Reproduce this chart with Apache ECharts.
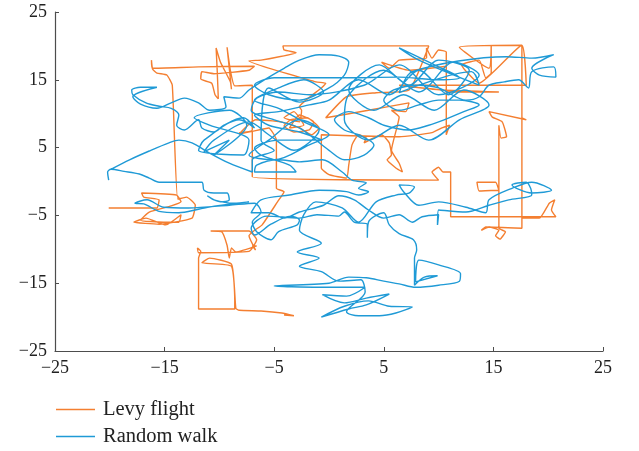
<!DOCTYPE html>
<html>
<head>
<meta charset="utf-8">
<script src="https://cdn.jsdelivr.net/npm/echarts@6/dist/echarts.min.js"></script>
<style>
  html, body { margin: 0; padding: 0; background: #fff; }
  #chart { width: 639px; height: 451px; }
</style>
</head>
<body>
<div id="chart"></div>
<script>
// Tick positions shared by both axes
const tickValues = [-25, -15, -5, 5, 15, 25];

// Series names
const seriesNames = ['Levy flight', 'Random walk'];

// Levy flight trajectory [x, y]
const levyPath = [
  [-20.1,-3.9],[-15.7,-3.9],[-15.5,-2.7],[-16.9,-2.3],[-17.1,-1.7],[-13.9,-2.0],[-13.5,-3.0],[-14.4,-3.6],
  [-16.4,-4.5],[-17.2,-5.7],[-15.1,-6.0],[-13.7,-6.0],[-13.5,-4.9],[-14.9,-6.4],[-16.7,-5.4],[-17.8,-6.0],
  [-15.5,-6.3],[-12.5,-5.4],[-12.2,-3.5],[-13.0,-2.3],[-13.8,-2.6],[-14.3,14.2],[-14.8,15.7],[-15.7,16.0],
  [-16.1,16.6],[-16.2,17.9],[-16.1,16.7],[-11.9,16.9],[-6.8,17.0],[-7.3,16.4],[-10.5,15.9],[-11.6,16.2],
  [-11.7,15.1],[-10.7,14.5],[-10.4,12.8],[-10.1,12.2],[-10.2,16.4],[-10.3,19.7],[-9.9,17.6],[-9.0,14.7],
  [-8.9,13.6],[-9.1,16.7],[-9.3,19.8],[-9.0,16.4],[-8.6,14.1],[-7.0,14.2],[-7.0,7.6],[-8.2,7.2],[-7.0,7.4],
  [-7.0,0.7],[10.0,0.2],[9.4,1.4],[10.0,2.1],[10.4,1.4],[11.1,1.4],[11.1,-5.2],[20.7,-5.2],[20.3,-4.2],
  [20.6,-2.7],[20.1,-3.2],[19.2,-5.4],[17.6,-5.4],[17.6,-6.9],[14.3,-6.7],[13.9,-7.2],[14.6,-6.7],
  [15.5,-7.2],[15.2,-8.0],[15.6,-8.5],[16.1,-7.4],[15.5,-6.9],[15.5,-1.3],[13.7,-1.4],[13.5,-0.1],
  [15.2,-0.1],[15.5,-1.3],[15.5,8.3],[15.7,6.4],[16.2,6.6],[15.8,8.8],[14.9,9.5],[14.6,10.3],[18.0,9.1],
  [17.6,9.4],[17.6,-6.9],[17.6,20.1],[11.9,19.8],[14.6,16.7],[14.8,20.1],[14.8,16.0],[14.3,15.3],
  [13.7,17.9],[12.1,17.2],[13.7,14.5],[17.6,20.1],[18.0,14.2],[6.4,14.2],[10.3,13.5],[15.5,13.2],
  [10.7,13.2],[10.7,19.1],[10.0,19.4],[9.4,18.2],[8.9,19.7],[8.9,18.2],[6.4,17.9],[5.5,16.7],[4.8,17.6],
  [7.3,16.4],[10.7,17.0],[10.7,6.9],[11.0,8.3],[10.3,7.9],[9.4,7.2],[6.4,6.6],[-0.7,6.9],[-0.7,2.0],
  [0.0,1.0],[1.6,0.5],[1.8,2.4],[2.1,5.4],[2.7,6.9],[3.4,6.4],[3.2,5.7],[4.8,6.9],[5.5,5.7],[5.7,3.9],
  [5.3,3.2],[6.1,2.0],[6.7,1.4],[6.4,2.7],[5.7,4.6],[6.4,9.5],[5.7,10.5],[7.0,10.3],[7.3,11.6],[3.6,10.5],
  [-0.3,9.4],[1.6,12.5],[4.3,13.1],[7.3,13.5],[9.1,20.0],[-4.2,20.0],[-4.1,19.4],[-3.0,19.0],[-6.2,17.9],
  [-7.3,17.8],[-1.2,14.7],[-0.3,14.5],[-0.7,13.8],[-2.7,11.0],[-2.5,10.5],[-2.7,8.8],[-4.1,9.4],
  [-3.2,10.3],[-2.3,8.3],[-3.6,7.9],[-2.7,9.8],[-1.4,8.8],[-1.8,7.6],[-3.2,7.3],[-4.1,8.2],[-3.5,9.1],
  [-2.0,9.4],[-0.9,7.9],[-1.6,6.9],[-2.7,7.9],[-4.4,8.8],[-6.7,9.1],[-8.2,7.0],[-7.0,7.4],[-5.5,7.9],
  [-4.8,6.1],[-4.8,-1.0],[-4.1,-1.5],[-4.7,-3.0],[-6.1,-6.4],[-6.8,-7.2],[-7.3,-8.0],[-6.7,-10.1],
  [-7.0,-9.5],[-6.6,-9.5],[-8.5,-10.4],[-8.9,-9.8],[-9.1,-11.3],[-9.3,-9.4],[-9.8,-7.4],[-10.8,-7.3],
  [-7.3,-7.3],[-6.6,-8.6],[-7.3,-10.3],[-11.9,-10.5],[-12.0,-9.8],[-11.7,-10.3],[-11.9,-11.3],
  [-11.9,-18.8],[-8.6,-18.8],[-8.6,-17.5],[-8.9,-12.2],[-10.9,-11.3],[-11.6,-12.0],[-8.9,-12.5],
  [-8.5,-18.7],[-8.2,-19.0],[-6.2,-19.1],[-4.3,-19.4],[-3.2,-19.8],[-4.1,-19.7]
];

// Random walk trajectory [x, y]
const walkPath = [
  [-20.1,0.2],[-20.2,1.4],[-19.9,1.8],[-18.7,1.5],[-17.3,1.1],[-16.4,0.5],[-15.5,-0.1],[-13.7,-0.1],
  [-11.6,-0.1],[-11.4,-1.3],[-10.5,-1.7],[-9.3,-1.7],[-9.1,-2.7],[-9.9,-3.0],[-11.1,-2.1],[-10.5,-2.7],
  [-8.7,-3.2],[-7.3,-3.0],[-10.3,-3.6],[-11.9,-4.1],[-13.7,-4.6],[-15.5,-4.4],[-16.9,-3.3],[-17.7,-3.2],
  [-16.6,-2.7],[-15.1,-3.8],[-12.8,-3.9],[-9.1,-3.5],[-6.8,-3.2],[-6.2,-4.5],[-7.0,-6.0],[-6.6,-7.4],
  [-5.3,-8.6],[-4.6,-7.4],[-2.9,-6.4],[-2.7,-5.7],[-3.5,-5.1],[-5.3,-6.3],[-6.8,-7.9],[-7.1,-6.9],
  [-5.7,-5.1],[-2.7,-5.4],[-1.1,-4.9],[0.9,-5.1],[1.4,-4.5],[2.3,-6.0],[3.5,-6.3],[3.5,-8.3],[3.6,-6.0],
  [5.0,-4.6],[5.5,-6.4],[6.4,-7.7],[7.7,-8.6],[8.0,-10.1],[7.8,-11.3],[7.8,-15.3],[8.7,-14.1],[9.9,-13.9],
  [7.9,-14.8],[8.2,-11.6],[10.0,-12.3],[12.0,-13.6],[11.9,-14.7],[10.0,-15.3],[7.9,-15.6],[6.4,-15.1],
  [5.0,-14.7],[3.4,-14.2],[1.8,-14.1],[0.0,-15.0],[-5.0,-15.4],[-0.9,-15.6],[3.3,-15.6],[1.6,-16.9],
  [-0.6,-16.7],[1.4,-17.9],[3.4,-17.2],[5.5,-16.6],[3.4,-18.2],[1.8,-18.8],[-0.7,-20.0],[1.4,-18.4],
  [3.6,-17.6],[5.5,-18.4],[7.6,-18.5],[6.1,-19.4],[4.6,-19.8],[2.7,-19.8],[1.6,-19.2],[3.3,-16.3],
  [2.9,-14.5],[0.9,-14.7],[-0.7,-13.3],[-2.7,-12.5],[-0.9,-11.3],[-2.9,-10.4],[-0.7,-9.1],[-2.7,-7.2],
  [-2.3,-4.9],[-1.2,-3.0],[1.2,-3.9],[2.7,-6.0],[4.3,-3.0],[6.1,-2.0],[7.3,-1.7],[7.8,-0.8],[6.4,-0.5],
  [6.8,-1.5],[8.2,-3.5],[10.0,-3.0],[12.5,-3.8],[14.3,-4.6],[14.6,-2.7],[16.7,-1.0],[18.5,-0.1],
  [20.3,-1.3],[18.5,-1.7],[16.7,-0.5],[18.0,-0.1],[18.4,-1.0],[18.5,-2.0],[16.4,-2.7],[14.6,-3.5],
  [12.5,-4.5],[10.0,-4.2],[9.9,-6.4],[10.0,-4.9],[8.5,-5.2],[7.6,-6.0],[6.4,-4.9],[5.0,-5.4],[3.6,-4.2],
  [2.3,-2.7],[0.9,-2.1],[-0.5,-3.5],[-2.7,-4.5],[-4.1,-5.4],[-5.5,-4.6],[-7.1,-4.6],[-6.2,-2.7],
  [-3.6,-2.0],[-0.9,-1.3],[1.6,-1.5],[2.7,-2.0],[3.6,-1.5],[2.7,-1.0],[3.4,-0.2],[2.1,0.2],[1.2,1.4],
  [-0.6,3.2],[-2.7,2.9],[-4.6,3.2],[-6.6,2.4],[-6.8,1.4],[-3.0,1.4],[-3.6,2.4],[-6.2,3.9],[-6.8,4.9],
  [-4.6,6.1],[-0.6,6.1],[-2.7,7.3],[-5.5,8.3],[-6.8,9.8],[-4.6,10.3],[-1.8,11.3],[0.0,12.0],
  [2.7,15.0],[5.5,12.8],[8.2,16.4],[10.9,12.8],[12.8,16.4],[10.0,17.9],[7.3,14.2],[4.6,17.2],[1.8,13.5],
  [4.1,10.5],[6.8,12.8],[9.6,10.5],[12.3,13.5],[14.6,11.3],[11.9,9.1],[9.1,6.1],[6.4,8.3],[3.6,6.1],
  [1.4,9.1],
  [1.8,12.8],[5.0,16.4],[8.2,13.2],[11.4,17.6],[13.7,15.7],[10.0,12.8],[6.4,17.2],[3.2,14.2],
  [-1.8,12.8],
  [-4.6,13.2],[-6.6,12.3],[-7.1,10.5],[-5.0,9.1],[-2.7,7.9],[0.0,4.6],[1.4,3.2],[3.2,3.9],[4.1,5.4],
  [2.7,6.9],[1.4,7.6],[0.5,9.1],[1.8,10.3],[3.6,9.4],[5.0,8.3],[7.3,7.6],[9.1,8.3],[10.5,9.1],[12.3,10.3],
  [13.7,11.3],[11.9,12.0],[10.0,12.0],[8.2,11.3],[6.4,10.5],[5.0,12.0],[5.9,13.5],[8.2,14.2],[10.0,13.8],
  [12.5,12.0],[13.7,12.5],[14.6,14.2],[16.0,14.7],[17.3,15.0],[18.2,13.8],[18.5,16.2],[20.5,16.9],
  [20.7,15.4],[19.2,15.7],[18.5,16.7],[20.5,18.7],[18.5,18.2],[16.2,18.4],[7.6,16.2],[6.4,13.1],
  [13.0,16.2],[13.7,14.2],[8.2,17.9],[6.4,19.7],[10.0,16.9],[11.9,15.3],[10.0,15.0],[6.4,15.4],[0.9,15.3],
  [-5.0,15.3],[-6.8,14.2],[-5.5,12.8],[-2.7,12.0],[0.0,13.8],[1.4,15.7],[1.8,17.6],[0.9,18.5],[-0.9,18.7],
  [-2.7,17.9],[-4.1,16.7],[-5.9,15.0],[-7.3,13.5],[-8.2,12.3],[-9.6,12.5],[-9.4,11.0],[-10.9,10.5],
  [-11.9,11.6],[-13.2,12.3],[-14.4,11.6],[-15.7,10.8],[-17.2,11.4],[-17.9,12.5],[-15.7,13.9],[-17.2,13.9],
  [-18.0,13.5],[-17.9,12.8],[-16.7,11.6],[-15.5,11.1],[-14.4,10.8],[-13.7,9.8],[-13.9,8.3],[-13.2,7.6],
  [-11.9,9.1],[-11.6,7.9],[-10.5,7.3],[-9.6,8.3],[-8.2,9.1],[-6.8,7.9],
  [-7.8,9.4],[-11.4,6.1],[-11.9,4.6],[-7.8,3.9],[-7.3,6.1],[-10.9,8.3],[-12.3,9.4],[-9.1,10.5],
  [-7.5,8.3],[-10.5,3.9],
  [-9.1,6.1],[-11.4,4.4],[-10.5,6.1],[-7.3,8.8],[-5.5,6.9],[-3.2,4.6],[-0.9,7.6],[-2.7,9.1],[-5.5,6.1],
  [-7.3,3.9],[-5.0,3.2],[-1.8,5.4],[0.0,6.9],[-2.3,8.8],[-4.6,10.8],[-6.8,12.0],[-4.6,13.8],[-2.3,15.0],
  [-0.5,13.2],[-2.7,11.7],[-5.5,13.8],
  [-6.2,6.1],[-5.0,4.6],[-7.0,3.2],
  [-7.0,1.4],[-9.1,2.7],[-10.9,4.2],[-12.5,5.7],[-13.7,6.1],[-14.6,5.7],[-16.4,4.5],[-18.2,3.2],[-19.9,1.8]
];

const serif = '"Liberation Serif", "DejaVu Serif", serif';
const axisColor = '#4d4d4d';
const fmt = v => (v < 0 ? '\u2212' + Math.abs(v) : String(v));

function makeAxis() {
  return {
    type: 'value',
    min: -25,
    max: 25,
    axisLine: { show: true, onZero: false, lineStyle: { color: axisColor, width: 1.2 } },
    axisTick: { show: true, inside: true, length: 4, customValues: tickValues, lineStyle: { color: axisColor } },
    axisLabel: { customValues: tickValues, formatter: fmt, color: '#222', fontFamily: serif, fontSize: 18, margin: 8 },
    splitLine: { show: false }
  };
}

function legendRow(name, top) {
  return {
    data: [name],
    left: 56,
    top: top,
    icon: 'rect',
    itemWidth: 39,
    itemHeight: 1.6,
    itemGap: 0,
    textStyle: { fontFamily: serif, fontSize: 20.5, color: '#222', padding: [0, 0, 0, 3] },
    padding: 0
  };
}

const chart = echarts.init(document.getElementById('chart'), null, { renderer: 'canvas' });
chart.setOption({
  animation: false,
  backgroundColor: '#ffffff',
  grid: { left: 55, right: 36, top: 12, bottom: 100, containLabel: false },
  xAxis: makeAxis(),
  yAxis: makeAxis(),
  legend: [legendRow(seriesNames[0], 399), legendRow(seriesNames[1], 426)],
  series: [
    {
      name: seriesNames[0],
      type: 'line',
      data: levyPath,
      showSymbol: false,
      smooth: 0.15,
      lineStyle: { color: '#f47f31', width: 1.4 },
      itemStyle: { color: '#f47f31' }
    },
    {
      name: seriesNames[1],
      type: 'line',
      data: walkPath,
      showSymbol: false,
      smooth: 0.3,
      lineStyle: { color: '#1f9ad6', width: 1.4 },
      itemStyle: { color: '#1f9ad6' }
    }
  ]
});
</script>
</body>
</html>
